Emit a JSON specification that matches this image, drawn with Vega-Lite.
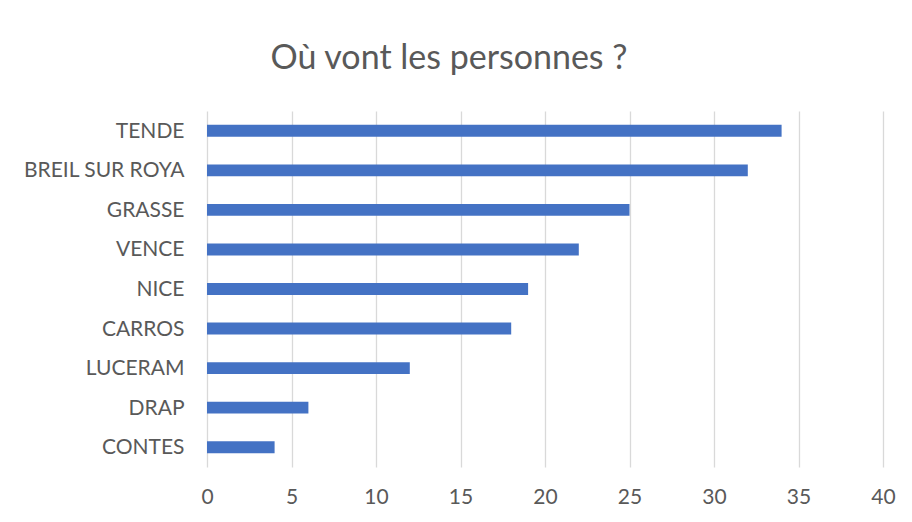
{
  "$schema": "https://vega.github.io/schema/vega-lite/v6.json",
  "autosize": "none",
  "width": 676,
  "height": 356,
  "padding": {"left": 207, "top": 111, "right": 29, "bottom": 55},
  "background": "white",
  "config": {"view": {"stroke": null}, "font": "Lato"},
  "title": {
    "text": "Où vont les personnes ?",
    "fontSize": 34,
    "font": "Lato",
    "fontWeight": "normal",
    "color": "#595959",
    "anchor": "middle",
    "dx": -96,
    "offset": 35
  },
  "data": {
    "values": [
      {"ville": "TENDE", "n": 34},
      {"ville": "BREIL SUR ROYA", "n": 32},
      {"ville": "GRASSE", "n": 25},
      {"ville": "VENCE", "n": 22},
      {"ville": "NICE", "n": 19},
      {"ville": "CARROS", "n": 18},
      {"ville": "LUCERAM", "n": 12},
      {"ville": "DRAP", "n": 6},
      {"ville": "CONTES", "n": 4}
    ]
  },
  "mark": {"type": "bar", "color": "#4472C4"},
  "encoding": {
    "y": {
      "field": "ville",
      "type": "nominal",
      "sort": null,
      "scale": {"paddingInner": 0.7, "paddingOuter": 0.35},
      "axis": {
        "title": null,
        "domain": false,
        "ticks": false,
        "labelFontSize": 21,
        "labelColor": "#595959",
        "labelPadding": 23,
        "labelBaseline": "middle",
        "labelOffset": 1
      }
    },
    "x": {
      "field": "n",
      "type": "quantitative",
      "scale": {"domain": [0, 40], "nice": false},
      "axis": {
        "title": null,
        "values": [0, 5, 10, 15, 20, 25, 30, 35, 40],
        "domain": false,
        "ticks": false,
        "grid": true,
        "gridColor": "#d9d9d9",
        "gridWidth": 1.3,
        "labelFlush": false,
        "labelFontSize": 21,
        "labelColor": "#595959",
        "labelPadding": 19
      }
    }
  }
}
